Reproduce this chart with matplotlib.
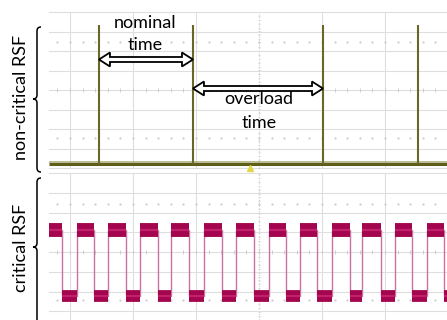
import numpy as np
import matplotlib
matplotlib.use("Agg")
import matplotlib.pyplot as plt
from matplotlib.path import Path
from matplotlib.patches import PathPatch, Polygon
from matplotlib.transforms import IdentityTransform

# time axis in scope divisions (0 = trigger position)
spike_t = [-2.54, -1.048, 1.016, 2.524]
spike_top = 3.33
base_level = -3.8

fall_t = [-3.127, -2.619, -2.111, -1.603, -1.111, -0.587, -0.079,
          0.429, 0.921, 1.444, 1.937, 2.429, 2.937]
rise_t = [-2.889, -2.397, -1.889, -1.397, -0.873, -0.365, 0.159,
          0.651, 1.159, 1.635, 2.159, 2.667]
high_level = 1.12
low_level = -2.24

x_lim = (-3.333, 2.984)
W, H = 447, 320

plt.rcParams['font.family'] = ['Lato', 'DejaVu Sans']

fig = plt.figure(figsize=(W / 100, H / 100), dpi=100)
ax1 = fig.add_axes([49 / W, 1 - 168 / H, 1 - 49 / W, 156 / H])
ax2 = fig.add_axes([49 / W, 0, 1 - 49 / W, 1 - 173 / H])

grid_c = "#dedede"


def scope_grid(ax, ylim):
    ax.set_xlim(*x_lim)
    ax.set_ylim(*ylim)
    ax.axis("off")
    for xv in range(-3, 4):
        if xv == 0:
            ax.axvline(xv, color="#cfcfcf", lw=0.8, ls=(0, (1, 1.5)), zorder=0)
        else:
            ax.axvline(xv, color=grid_c, lw=0.8, zorder=0)
    for yv in range(int(np.ceil(ylim[0])), int(np.floor(ylim[1])) + 1):
        ax.axhline(yv, color=grid_c, lw=0.8, zorder=0, clip_on=False)
    sub = np.arange(-3.2, 3.0, 0.2)
    ax.plot(sub, np.zeros_like(sub), ls="none", marker="|", ms=2.5,
            color="#c8c8c8", mew=0.6, zorder=0)
    for yv in (2.45, -2.45):
        ax.plot(sub, np.full_like(sub, yv), ls="none", marker=".", ms=1.2,
                color="#cccccc", zorder=0)
    vs = np.arange(ylim[0], ylim[1], 0.2)
    ax.plot(np.zeros_like(vs), vs, ls="none", marker="_", ms=2,
            color="#d0d0d0", mew=0.6, zorder=0)


scope_grid(ax1, (-4, 4))
scope_grid(ax2, (-3.44, 4.0))

# non-critical RSF trace
olive = "#67672a"
ax1.plot(x_lim, [base_level, base_level], color="#5e5e18", lw=2.2,
         solid_capstyle="butt", zorder=2)
ax1.plot(x_lim, [base_level + 0.13, base_level + 0.13], color="#7d7d3a",
         lw=1.2, alpha=0.6, zorder=2)
ax1.vlines(spike_t, base_level, spike_top, color=olive, lw=1.5, zorder=3)
ax1.plot([(250 - 259) / 63], [-4.0], marker="^", ms=4, color="#e0d84a",
         clip_on=False, zorder=4)

# critical RSF trace
edges = sorted([(t, low_level) for t in fall_t] + [(t, high_level) for t in rise_t])
xs = [x_lim[0]]
ys = [high_level]
level = high_level
starts = [x_lim[0]]
for t, new in edges:
    xs += [t, t]
    ys += [level, new]
    level = new
    starts.append(t)
xs.append(x_lim[1])
ys.append(level)
ax2.plot(xs, ys, color="#c9739c", lw=1.0, zorder=2)

bounds = starts + [x_lim[1]]
lev = high_level
for i in range(len(bounds) - 1):
    a, b = bounds[i], bounds[i + 1]
    lw = 10 if lev > 0 else 8.5
    ax2.plot([a + 0.005, b - 0.005], [lev, lev], color="#a3064f", lw=lw,
             solid_capstyle="butt", zorder=3)
    ax2.plot([a + 0.005, b - 0.005], [lev, lev], color="#c2206a", lw=1.6,
             solid_capstyle="butt", zorder=4)
    lev = low_level if lev == high_level else high_level

fig.canvas.draw()


def hollow_arrow(ax, t0, t1, y, shaft=5, head_w=14, head_l=11):
    (x0, yy), = ax.transData.transform([(t0, y)])
    (x1, _), = ax.transData.transform([(t1, y)])
    s, hw = shaft / 2, head_w / 2
    pts = [(x0, yy), (x0 + head_l, yy + hw), (x0 + head_l, yy + s),
           (x1 - head_l, yy + s), (x1 - head_l, yy + hw), (x1, yy),
           (x1 - head_l, yy - hw), (x1 - head_l, yy - s),
           (x0 + head_l, yy - s), (x0 + head_l, yy - hw)]
    p = Polygon(pts, closed=True, facecolor="white", edgecolor="black",
                lw=1.3, transform=IdentityTransform(), zorder=6)
    fig.add_artist(p)


def py(img_y):
    return (89.5 - img_y) / 19.5


hollow_arrow(ax1, spike_t[0], spike_t[1], py(59))
hollow_arrow(ax1, spike_t[1], spike_t[2], py(88))

ax1.text((145 - 259) / 63, py(22), "nominal", ha="center", va="center",
         fontsize=13, zorder=7)
ax1.text((145 - 259) / 63, py(45), "time", ha="center", va="center",
         fontsize=13, zorder=7)
ax1.text((259 - 259) / 63, py(99), "overload", ha="center", va="center",
         fontsize=13, zorder=7)
ax1.text((259 - 259) / 63, py(122), "time", ha="center", va="center",
         fontsize=13, zorder=7)


def brace(x, y_top, y_bot, y_tip, w=4):
    # image pixel coords -> display coords (y up)
    def d(px, pyy):
        return (px, H - pyy)
    verts = [d(x + w, y_top), d(x, y_top), d(x, y_top + w),
             d(x, y_tip - w), d(x, y_tip), d(x - w, y_tip),
             d(x, y_tip), d(x, y_tip + w),
             d(x, y_bot - w), d(x, y_bot), d(x + w, y_bot)]
    codes = [Path.MOVETO, Path.CURVE3, Path.CURVE3,
             Path.LINETO, Path.CURVE3, Path.CURVE3,
             Path.CURVE3, Path.CURVE3,
             Path.LINETO, Path.CURVE3, Path.CURVE3]
    fig.add_artist(PathPatch(Path(verts, codes), facecolor="none",
                             edgecolor="black", lw=1.1,
                             transform=IdentityTransform()))


brace(37, 27, 172, 99)
brace(37, 178, 330, 247)

fig.text(21 / W, 1 - 97 / H, "non-critical RSF", rotation=90,
         ha="center", va="center", fontsize=13)
fig.text(21 / W, 1 - 248 / H, "critical RSF", rotation=90,
         ha="center", va="center", fontsize=13)

fig.savefig("out.png", dpi=100)
